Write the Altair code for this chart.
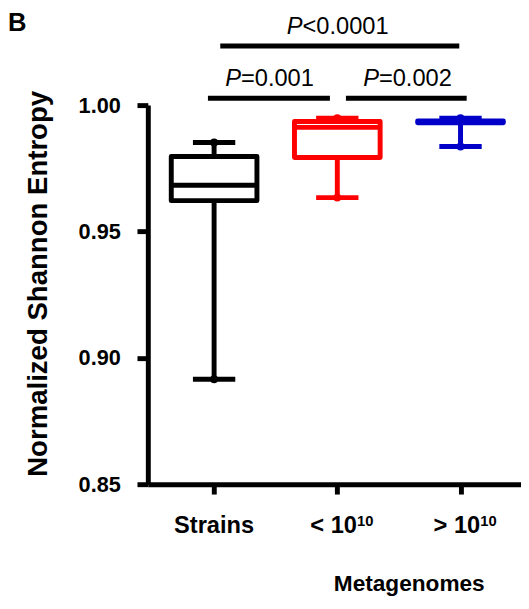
import altair as alt
import pandas as pd

# ---- data ----
groups = ["Strains", "< 10^10", "> 10^10"]
label_main = ["Strains", "< 10", "> 10"]
label_sup = ["", "10", "10"]
whisker_low = [0.8915, 0.9634, 0.9836]
box_q1 = [0.9622, 0.9793, 0.9930]
box_median = [0.9683, 0.9912, 0.9933]
box_q3 = [0.9797, 0.9935, 0.9937]
whisker_high = [0.9852, 0.9948, 0.9948]
colors = ["#000000", "#FF0000", "#0000C8"]

bracket_x1 = [-0.05, 1.07, 0.05]
bracket_x2 = [0.94, 2.05, 1.99]
bracket_y = [1.0027, 1.0027, 1.0234]
pval_rest = ["=0.001", "=0.002", "<0.0001"]
pval_x = [0.09, 1.21, 0.59]
pval_y = [1.0074, 1.0074, 1.0280]

y_ticks = [0.85, 0.90, 0.95, 1.00]

FONT = "Liberation Sans"

box = pd.DataFrame({
    "group": groups,
    "idx": list(range(len(groups))),
    "main": label_main,
    "sup": label_sup,
    "lo": whisker_low,
    "q1": box_q1,
    "med": box_median,
    "q3": box_q3,
    "hi": whisker_high,
    "color": colors,
})
brk = pd.DataFrame({"x1": bracket_x1, "x2": bracket_x2, "y": bracket_y})
pv = pd.DataFrame({"x": pval_x, "y": pval_y, "rest": pval_rest, "p": ["P"] * 3})

xscale = alt.Scale(domain=[-0.498, 2.451], nice=False, zero=False)
yscale = alt.Scale(domain=[0.85, 1.0], nice=False, zero=False)

X = alt.X(
    "idx:Q", scale=xscale,
    axis=alt.Axis(
        values=[0, 1, 2], labels=False, grid=False,
        tickSize=10, tickWidth=5, tickColor="black",
        domainWidth=5, domainColor="black",
        title="Metagenomes", titleFont=FONT, titleFontSize=23,
        titleFontWeight="bold", titleColor="black",
        titleX=265, titleY=108, titleAlign="center", titleBaseline="alphabetic",
    ),
)
Y = alt.Y(
    "lo:Q", scale=yscale,
    axis=alt.Axis(
        values=y_ticks, format=".2f", grid=False,
        tickSize=11, tickWidth=5, tickColor="black",
        domainWidth=5, domainColor="black",
        labelFont=FONT, labelFontSize=22, labelFontWeight="bold",
        labelColor="black", labelPadding=17,
        title="Normalized Shannon Entropy", titleFont=FONT, titleFontSize=28,
        titleFontWeight="bold", titleColor="black",
        titleX=-103, titleY=181, titleAngle=270, titleAlign="center",
        titleBaseline="alphabetic",
    ),
)
C = alt.Color("color:N", scale=None)

base = alt.Chart(box)

whisker = base.mark_rule(strokeWidth=5, opacity=1).encode(x=X, y=Y, y2="hi:Q", color=C)
boxes = base.mark_bar(size=87, fill="white", strokeWidth=5, strokeJoin="round", opacity=1).encode(
    x=alt.X("idx:Q", scale=xscale), y=alt.Y("q1:Q", scale=yscale), y2="q3:Q",
    stroke=alt.Stroke("color:N", scale=None),
)
median = base.mark_tick(orient="horizontal", size=87, thickness=5, opacity=1).encode(
    x=alt.X("idx:Q", scale=xscale), y=alt.Y("med:Q", scale=yscale), color=C
)
cap_lo = base.mark_tick(orient="horizontal", size=43, thickness=5, opacity=1).encode(
    x=alt.X("idx:Q", scale=xscale), y=alt.Y("lo:Q", scale=yscale), color=C
)
cap_hi = base.mark_tick(orient="horizontal", size=43, thickness=5, opacity=1).encode(
    x=alt.X("idx:Q", scale=xscale), y=alt.Y("hi:Q", scale=yscale), color=C
)
dot_lo = base.mark_point(filled=True, size=65, opacity=1).encode(
    x=alt.X("idx:Q", scale=xscale), y=alt.Y("lo:Q", scale=yscale), color=C
)
dot_hi = base.mark_point(filled=True, size=65, opacity=1).encode(
    x=alt.X("idx:Q", scale=xscale), y=alt.Y("hi:Q", scale=yscale), color=C
)

lab_plain = base.transform_filter("datum.sup == ''").mark_text(
    font=FONT, fontSize=24, fontWeight="bold", align="center", baseline="alphabetic", color="black"
).encode(x=alt.X("idx:Q", scale=xscale), y=alt.value(435), text="main:N")
lab_main = base.transform_filter("datum.sup != ''").mark_text(
    font=FONT, fontSize=24, fontWeight="bold", align="right", baseline="alphabetic",
    color="black", dx=20
).encode(x=alt.X("idx:Q", scale=xscale), y=alt.value(435), text="main:N")
lab_sup = base.transform_filter("datum.sup != ''").mark_text(
    font=FONT, fontSize=15, fontWeight="bold", align="left", baseline="alphabetic",
    color="black", dx=20
).encode(x=alt.X("idx:Q", scale=xscale), y=alt.value(427), text="sup:N")

brackets = alt.Chart(brk).mark_rule(strokeWidth=5, color="black").encode(
    x=alt.X("x1:Q", scale=xscale), x2="x2:Q", y=alt.Y("y:Q", scale=yscale)
)
p_italic = alt.Chart(pv).mark_text(
    font=FONT, fontSize=24, fontStyle="italic", align="left", baseline="alphabetic", color="black"
).encode(x=alt.X("x:Q", scale=xscale), y=alt.Y("y:Q", scale=yscale), text="p:N")
p_rest = alt.Chart(pv).mark_text(
    font=FONT, fontSize=24, align="left", baseline="alphabetic", color="black", dx=16
).encode(x=alt.X("x:Q", scale=xscale), y=alt.Y("y:Q", scale=yscale), text="rest:N")

panel = alt.Chart(pd.DataFrame({"t": ["B"]})).mark_text(
    font=FONT, fontSize=26, fontWeight="bold", align="left", baseline="alphabetic", color="black"
).encode(x=alt.value(-142), y=alt.value(-75), text="t:N")

chart = alt.layer(
    whisker, boxes, median, cap_lo, cap_hi, dot_lo, dot_hi,
    lab_plain, lab_main, lab_sup, brackets, p_italic, p_rest, panel,
).properties(
    width=379, height=385,
    autosize=alt.AutoSizeParams(type="none"),
    padding={"left": 142, "top": 94, "right": 0, "bottom": 115},
    background="white",
).configure_view(stroke=None)

chart.save("out.html", embed_options={"renderer": "svg", "actions": False})
